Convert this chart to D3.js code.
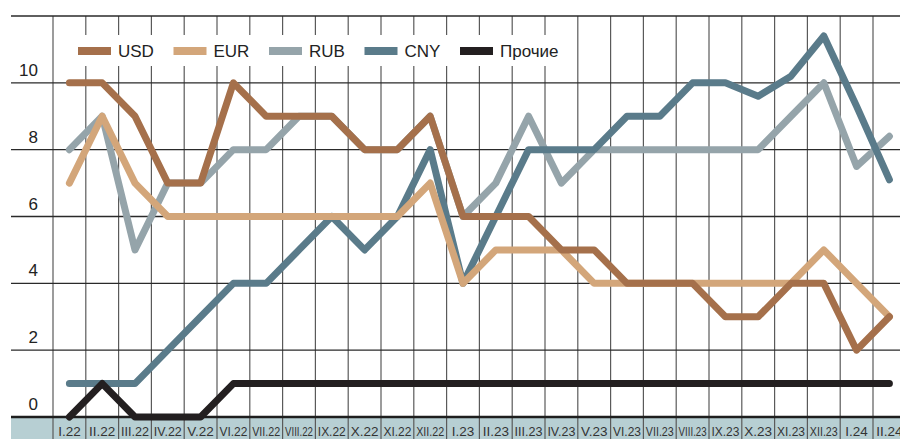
<!DOCTYPE html>
<html>
<head>
<meta charset="utf-8">
<script src="https://cdn.jsdelivr.net/npm/d3@7"></script>
<style>
  body { margin: 0; background: #fff; }
  svg { display: block; font-family: "Liberation Sans", Arial, sans-serif; }
</style>
</head>
<body>
<svg id="grafica"></svg>
<script>
// Валютная структура (по месяцам)

const svg_w = 900;
const svg_h = 439;

// meses
const months = ["I.22","II.22","III.22","IV.22","V.22","VI.22","VII.22","VIII.22","IX.22","X.22","XI.22","XII.22",
  "I.23","II.23","III.23","IV.23","V.23","VI.23","VII.23","VIII.23","IX.23","X.23","XI.23","XII.23","I.24","II.24"];

// series
const usd = [10,10,9,7,7,10,9,9,9,8,8,9,6,6,6,5,5,4,4,4,3,3,4,4,2,3];
const eur = [7,9,7,6,6,6,6,6,6,6,6,7,4,5,5,5,4,4,4,4,4,4,4,5,4,3];
const rub = [8,9,5,7,7,8,8,9,9,8,8,9,6,7,9,7,8,8,8,8,8,8,9,10,7.5,8.4];
const cny = [1,1,1,2,3,4,4,5,6,5,6,8,4,6,8,8,8,9,9,10,10,9.6,10.2,11.4,9.3,7.1];
const other = [0,1,0,0,0,1,1,1,1,1,1,1,1,1,1,1,1,1,1,1,1,1,1,1,1,1];

const y_ticks = [0,2,4,6,8,10];
const y_lines = [2,4,6,8,10,12];

// nombres de la leyenda y colores
const legend_names = ["USD","EUR","RUB","CNY","Прочие"];
const colors = {USD:"#a5704b", EUR:"#d3a67a", RUB:"#95a4aa", CNY:"#5a7b8a", "Прочие":"#231f20"};
const series = {USD:usd, EUR:eur, RUB:rub, CNY:cny, "Прочие":other};
const draw_order = ["RUB","CNY","EUR","USD","Прочие"];

let svg = d3.select("#grafica")
  .attr("width", svg_w)
  .attr("height", svg_h)

let x_scale = d3.scaleBand()
  .domain(months)
  .range([53, 53 + 32.8*months.length])
  .padding(0)

let y_scale = d3.scaleLinear()
  .domain([0,12])
  .range([417,16])

// banda del eje x
svg.append("rect")
  .attr("x",11)
  .attr("y",y_scale(0))
  .attr("width",svg_w-11)
  .attr("height",svg_h-y_scale(0))
  .attr("fill","#b7cfd3")

// líneas verticales
svg.append("g")
  .selectAll("line")
  .data(months)
  .enter().append("line")
  .attr("x1",d=>x_scale(d))
  .attr("x2",d=>x_scale(d))
  .attr("y1",y_scale(12))
  .attr("y2",svg_h)
  .attr("stroke","#5a5a5a")
  .attr("stroke-width",1.2)

// líneas horizontales
svg.append("g")
  .selectAll("line")
  .data(y_lines)
  .enter().append("line")
  .attr("x1",11)
  .attr("x2",svg_w)
  .attr("y1",d=>y_scale(d))
  .attr("y2",d=>y_scale(d))
  .attr("stroke","#2a2a2a")
  .attr("stroke-width",1.3)

svg.append("line")
  .attr("x1",11)
  .attr("x2",svg_w)
  .attr("y1",y_scale(0))
  .attr("y2",y_scale(0))
  .attr("stroke","#1e1e1e")
  .attr("stroke-width",2.5)

// etiquetas del eje y
svg.append("g")
  .selectAll("text")
  .data(y_ticks)
  .enter().append("text")
  .attr("x",38)
  .attr("y",d=>y_scale(d)-7)
  .attr("text-anchor","end")
  .attr("font-size",17)
  .attr("fill","#222")
  .text(d=>d)

// etiquetas del eje x
let x_labels = svg.append("g")
  .selectAll("text")
  .data(months)
  .enter().append("text")
  .attr("x",d=>x_scale(d)+x_scale.bandwidth()/2)
  .attr("y",436)
  .attr("text-anchor","middle")
  .attr("font-size",13.5)
  .attr("font-family","'Liberation Sans Narrow', 'Liberation Sans', Arial, sans-serif")
  .attr("fill","#333")
  .text(d=>d)

x_labels.each(function() {
  let w = this.getComputedTextLength();
  if (w > 28) {
    d3.select(this).attr("textLength",28).attr("lengthAdjust","spacingAndGlyphs");
  }
})

// las líneas
let line = d3.line()
  .x((d,i)=>x_scale(months[i])+x_scale.bandwidth()/2)
  .y(d=>y_scale(d))

svg.append("g")
  .selectAll("path")
  .data(draw_order)
  .enter().append("path")
  .attr("d",d=>line(series[d]))
  .attr("fill","none")
  .attr("stroke",d=>colors[d])
  .attr("stroke-width",7)
  .attr("stroke-linejoin","round")
  .attr("stroke-linecap","round")

// leyenda
svg.append("rect")
  .attr("x",58)
  .attr("y",35)
  .attr("width",519)
  .attr("height",31)
  .attr("fill","#fff")

let legend = svg.append("g")
  .selectAll("g")
  .data(legend_names)
  .enter().append("g")
  .attr("transform",(d,i)=>`translate(${78 + i*95.5},51)`)

legend.append("rect")
  .attr("x",0)
  .attr("y",-4)
  .attr("width",33)
  .attr("height",8)
  .attr("fill",d=>colors[d])

legend.append("text")
  .attr("x",40)
  .attr("y",6)
  .attr("font-size",17)
  .attr("fill","#222")
  .text(d=>d)
</script>
</body>
</html>
